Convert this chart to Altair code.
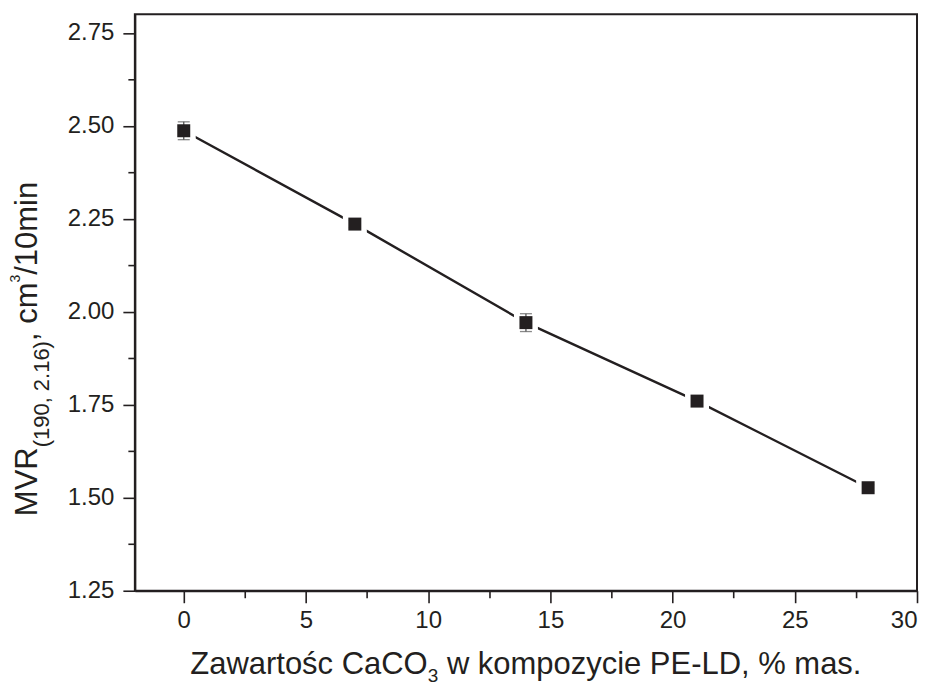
import altair as alt
import pandas as pd

# ---- data ----
caco3 = [0, 7, 14, 21, 28]
mvr = [2.487, 2.236, 1.971, 1.760, 1.527]
mvr_err = [0.024, 0.010, 0.024, 0.010, 0.008]

x_major = [0, 5, 10, 15, 20, 25, 30]
x_minor = [2.5, 7.5, 12.5, 17.5, 22.5, 27.5]
y_major = [1.25, 1.50, 1.75, 2.00, 2.25, 2.50, 2.75]
y_minor = [1.375, 1.625, 1.875, 2.125, 2.375, 2.625]

df = pd.DataFrame({
    "x": caco3,
    "y": mvr,
    "lo": [v - e for v, e in zip(mvr, mvr_err)],
    "hi": [v + e for v, e in zip(mvr, mvr_err)],
})

W, H = 783, 577
INK = "#231f20"
FONT = "Liberation Sans"

# Arial / Liberation Sans advance widths (1/1000 em) for title layout
AW = {" ": 278, "(": 333, ")": 333, ",": 278, ".": 278, "/": 278, "%": 889,
      "-": 333, "A": 667, "C": 722, "D": 722, "E": 667, "L": 556, "M": 833, "O": 778,
      "P": 667, "R": 722, "V": 667, "Z": 611, "a": 556, "c": 500, "e": 556, "i": 222,
      "k": 500, "m": 833, "n": 556, "o": 556, "p": 556, "r": 333, "s": 500, "ś": 500,
      "t": 278, "w": 722, "y": 500, "z": 500}


def tw(s, size):
    return sum(AW.get(ch, 556) for ch in s) * size / 1000.0


xs = alt.Scale(domain=[-2, 30], nice=False, zero=False)
ys = alt.Scale(domain=[1.25, 2.80], nice=False, zero=False)

base = alt.Chart(df)

line = base.mark_line(color=INK, strokeWidth=2.4).encode(
    x=alt.X("x:Q", scale=xs, title=None,
            axis=alt.Axis(orient="bottom", values=x_major, tickSize=12, labelPadding=6,
                          format="d")),
    y=alt.Y("y:Q", scale=ys, title=None,
            axis=alt.Axis(orient="left", values=y_major, tickSize=12, labelPadding=9,
                          format=".2f")),
)

minor = base.mark_point(opacity=0).encode(
    x=alt.X("x:Q", scale=xs, title=None,
            axis=alt.Axis(orient="bottom", values=x_minor, tickSize=7, labels=False,
                          domain=False)),
    y=alt.Y("y:Q", scale=ys, title=None,
            axis=alt.Axis(orient="left", values=y_minor, tickSize=7, labels=False,
                          domain=False)),
)

halo = base.mark_square(color="white", size=24 * 24, opacity=1).encode(
    x=alt.X("x:Q", scale=xs, axis=None), y=alt.Y("y:Q", scale=ys, axis=None))

err = base.mark_rule(color="#555555", strokeWidth=1.3).encode(
    x=alt.X("x:Q", scale=xs, axis=None), y=alt.Y("lo:Q", scale=ys, axis=None), y2="hi:Q")
cap_lo = base.mark_tick(orient="horizontal", size=12, thickness=1.3, color="#555555").encode(
    x=alt.X("x:Q", scale=xs, axis=None), y=alt.Y("lo:Q", scale=ys, axis=None))
cap_hi = base.mark_tick(orient="horizontal", size=12, thickness=1.3, color="#555555").encode(
    x=alt.X("x:Q", scale=xs, axis=None), y=alt.Y("hi:Q", scale=ys, axis=None))

marker = base.mark_square(color=INK, size=13 * 13, opacity=1).encode(
    x=alt.X("x:Q", scale=xs, axis=None), y=alt.Y("y:Q", scale=ys, axis=None))

one = alt.Data(values=[{"k": 1}])


def txt(s, size, px, py, angle=0):
    return alt.Chart(one).mark_text(
        text=s, font=FONT, fontSize=size, color=INK, align="left",
        baseline="alphabetic", angle=angle,
    ).encode(x=alt.value(px), y=alt.value(py))


# ---- x title: "Zawartośc CaCO3 w kompozycie PE-LD, % mas." with subscript 3 ----
# each part: (text, font size, baseline shift, extra gap before it)
XF, XS = 31, 19
xparts = [("Zawartośc CaCO", XF, 0, 0.0), ("3", XS, 8, 0.0),
          ("w kompozycie PE-LD, % mas.", XF, 0, tw(" ", XF))]
xtot = sum(tw(s, f) + g for s, f, _, g in xparts)
cx = W / 2 - xtot / 2
xbase = 660
xtitle = []
for s, f, dy, g in xparts:
    cx += g
    xtitle.append(txt(s, f, cx, xbase + dy))
    cx += tw(s, f)

# ---- y title: "MVR(190, 2.16), cm3/10min" with subscript and superscript ----
YF, YS, YP = 31, 22, 14
yparts = [("MVR", YF, 0, 0.0), ("(190, 2.16)", YS, 12, 0.0), (",", YF, 0, 0.0),
          ("cm", YF, 0, tw(" ", YF)), ("3", YP, -17, 0.0), ("/10min", YF, 0, 0.0)]
ytot = sum(tw(s, f) + g for s, f, _, g in yparts)
cy = 335 + ytot / 2
ybase = -98
ytitle = []
for s, f, dx, g in yparts:
    cy -= g
    ytitle.append(txt(s, f, ybase + dx, cy, angle=270))
    cy -= tw(s, f)

chart = alt.layer(
    line, minor, halo, err, cap_lo, cap_hi, marker, *xtitle, *ytitle
).resolve_axis(
    x="independent", y="independent"
).properties(
    width=W, height=H,
    padding={"left": 127, "top": 6, "right": 10, "bottom": 97},
    autosize=alt.AutoSizeParams(type="none"),
).configure_view(
    stroke=INK, strokeWidth=2
).configure_axis(
    grid=False, domainColor=INK, domainWidth=2, tickColor=INK, tickWidth=1.6,
    labelFont=FONT, labelFontSize=24, labelColor=INK,
)

chart.save("out.html", embed_options={"renderer": "svg", "actions": False})
